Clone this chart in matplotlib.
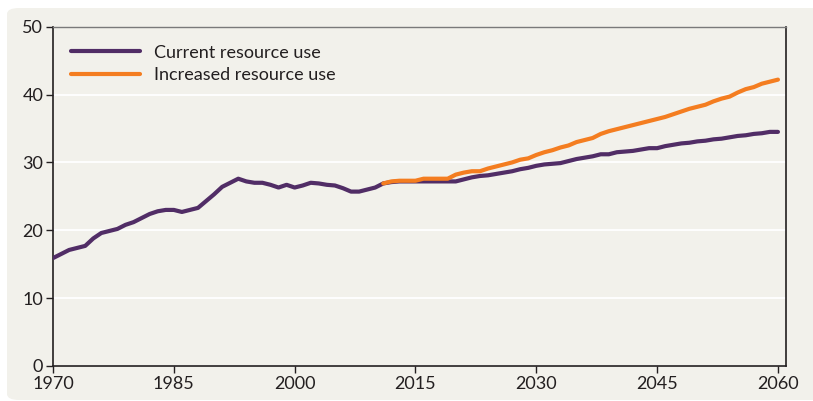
import numpy as np
import matplotlib.pyplot as plt
from matplotlib.patches import FancyBboxPatch

# Данные
years = list(range(1970, 2061))
current_use = [
    15.9, 16.5, 17.1, 17.4, 17.7, 18.8, 19.6, 19.9, 20.2, 20.8,
    21.2, 21.8, 22.4, 22.8, 23.0, 23.0, 22.7, 23.0, 23.3, 24.3,
    25.3, 26.4, 27.0, 27.6, 27.2, 27.0, 27.0, 26.7, 26.3, 26.7,
    26.3, 26.6, 27.0, 26.9, 26.7, 26.6, 26.2, 25.7, 25.7, 26.0,
    26.3, 26.9, 27.1, 27.2, 27.2, 27.2, 27.2, 27.2, 27.2, 27.2,
    27.2, 27.5, 27.8, 28.0, 28.1, 28.3, 28.5, 28.7, 29.0, 29.2,
    29.5, 29.7, 29.8, 29.9, 30.2, 30.5, 30.7, 30.9, 31.2, 31.2,
    31.5, 31.6, 31.7, 31.9, 32.1, 32.1, 32.4, 32.6, 32.8, 32.9,
    33.1, 33.2, 33.4, 33.5, 33.7, 33.9, 34.0, 34.2, 34.3, 34.5,
    34.5,
]
increased_years = list(range(2011, 2061))
increased_use = [
    26.9, 27.2, 27.3, 27.3, 27.3, 27.6, 27.6, 27.6, 27.6, 28.2,
    28.5, 28.7, 28.7, 29.1, 29.4, 29.7, 30.0, 30.4, 30.6, 31.1,
    31.5, 31.8, 32.2, 32.5, 33.0, 33.3, 33.6, 34.2, 34.6, 34.9,
    35.2, 35.5, 35.8, 36.1, 36.4, 36.7, 37.1, 37.5, 37.9, 38.2,
    38.5, 39.0, 39.4, 39.7, 40.3, 40.8, 41.1, 41.6, 41.9, 42.2,
]
x_ticks = [1970, 1985, 2000, 2015, 2030, 2045, 2060]
y_ticks = [0, 10, 20, 30, 40, 50]

bg = '#f2f1eb'
purple = '#512d66'
orange = '#f47d20'
dark = '#231f20'

plt.rcParams['font.family'] = ['Lato', 'DejaVu Sans']

fig = plt.figure(figsize=(8.13, 4.01), dpi=100)
fig.patch.set_facecolor('white')

# Фоновая панель со скруглёнными углами
panel = FancyBboxPatch((7 / 813, 1 / 401), 820 / 813, 392 / 401,
                       boxstyle='round,pad=0,rounding_size=0.015',
                       transform=fig.transFigure, facecolor=bg,
                       edgecolor='none', zorder=-10)
fig.patches.append(panel)

ax = fig.add_axes([53 / 813, 1 - 366 / 401, (786 - 53) / 813, (366 - 26.7) / 401])
ax.set_facecolor(bg)

ax.plot(years, current_use, color=purple, lw=3, solid_capstyle='round',
        label='Current resource use', zorder=3)
ax.plot(increased_years, increased_use, color=orange, lw=3,
        solid_capstyle='round', label='Increased resource use', zorder=4)

ax.set_xlim(1970, 2061)
ax.set_ylim(0, 50)
ax.set_xticks(x_ticks)
ax.set_yticks(y_ticks)
ax.grid(axis='y', color='white', lw=1.3)
ax.set_axisbelow(True)

ax.tick_params(direction='out', length=5, width=1, color=dark,
               labelsize=13, labelcolor=dark, pad=2)
for side in ['left', 'bottom', 'right']:
    ax.spines[side].set_color(dark)
    ax.spines[side].set_linewidth(1.2)
ax.spines['top'].set_color('#7a7a7a')
ax.spines['top'].set_linewidth(1)

leg = ax.legend(loc='upper left', bbox_to_anchor=(0.0, 1.0), frameon=False,
                fontsize=13, handlelength=3.8, handletextpad=0.8,
                labelspacing=0.35, borderaxespad=0.6)
for t in leg.get_texts():
    t.set_color(dark)

plt.savefig('out.png', dpi=100, facecolor=fig.get_facecolor())
